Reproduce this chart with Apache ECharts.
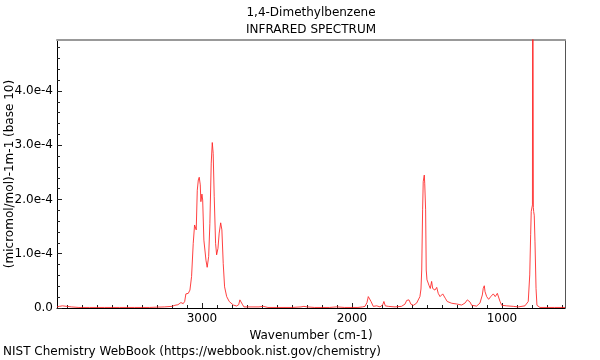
<!DOCTYPE html>
<html>
<head>
<meta charset="utf-8">
<script src="https://cdn.jsdelivr.net/npm/echarts@6/dist/echarts.min.js"></script>
<style>html,body{margin:0;padding:0;background:#fff}#c{width:600px;height:360px}</style>
</head>
<body>
<div id="c"></div>
<script>
// Wavenumbers (cm-1) and absorbance in units of 1e-4 (micromol/mol)-1 m-1
var wavenumbers = [3966,3950,3930,3900,3870,3820,3750,3650,3550,3450,3350,3250,3200,3180,3160,3150,3140,3125,3115,3107,3091,3080,3069,3058,3049,3042,3038,3031,3024,3018,3011,3007,3000,2995,2987,2973,2965,2955,2947,2938,2931,2925,2918,2909,2902,2893,2885,2875,2867,2858,2849,2835,2818,2791,2769,2755,2747,2740,2731,2720,2680,2620,2591,2560,2500,2400,2340,2320,2300,2250,2150,2102,2050,1960,1930,1913,1900,1891,1887,1882,1873,1858,1835,1813,1795,1787,1778,1758,1713,1670,1647,1635,1629,1620,1607,1590,1569,1547,1540,1535,1529,1525,1520,1518,1515,1513,1509,1505,1500,1492,1487,1480,1478,1469,1462,1455,1447,1435,1425,1413,1407,1395,1385,1378,1365,1335,1302,1269,1247,1231,1222,1213,1202,1169,1147,1131,1125,1118,1113,1102,1089,1075,1058,1045,1031,1022,1013,1002,969,925,891,847,825,815,809,805,800,797,795,793,791,789,785,780,773,767,747,700,650,580];
var absorbance = [0.02,0.03,0.04,0.03,0.02,0.01,0.01,0.01,0.01,0.01,0.01,0.02,0.03,0.05,0.06,0.09,0.10,0.08,0.12,0.26,0.27,0.33,0.58,1.19,1.53,1.56,1.44,2.17,2.36,2.41,2.27,1.96,2.10,1.99,1.25,0.88,0.75,0.95,1.56,2.67,3.05,2.85,2.05,1.19,0.98,1.10,1.38,1.57,1.44,0.82,0.39,0.21,0.12,0.055,0.037,0.06,0.15,0.16,0.07,0.02,0.02,0.02,0.03,0.01,0.01,0.01,0.02,0.03,0.02,0.01,0.01,0.02,0.01,0.01,0.02,0.03,0.10,0.21,0.22,0.20,0.12,0.03,0.04,0.02,0.06,0.12,0.04,0.03,0.02,0.03,0.07,0.14,0.16,0.15,0.07,0.05,0.09,0.21,0.35,0.70,1.81,2.33,2.35,2.45,2.30,2.27,1.81,0.70,0.52,0.46,0.42,0.39,0.36,0.49,0.36,0.33,0.33,0.38,0.27,0.21,0.21,0.26,0.25,0.18,0.12,0.087,0.074,0.055,0.09,0.15,0.16,0.11,0.05,0.035,0.09,0.24,0.36,0.41,0.30,0.21,0.16,0.21,0.26,0.21,0.27,0.24,0.12,0.05,0.04,0.03,0.02,0.04,0.12,0.61,1.35,1.78,1.78,1.90,9.0,9.0,1.85,1.78,1.71,1.22,0.36,0.05,0.01,0.01,0.01,0.01];

var xMajorTicks = [1000,2000,3000];
var xMinorTicks = [600,700,800,900,1100,1200,1300,1400,1500,1600,1700,1800,1900,2100,2200,2300,2400,2500,2600,2700,2800,2900,3100,3200,3300,3400,3500,3600,3700,3800,3900];
var yMajorTicks = [0,1,2,3,4];
var yMinorTicks = [0.2,0.4,0.6,0.8,1.2,1.4,1.6,1.8,2.2,2.4,2.6,2.8,3.2,3.4,3.6,3.8,4.2,4.4,4.6,4.8];

var X_MIN = 580, X_MAX = 3966, Y_MAX = 4.94;
var FONT = 'DejaVu Sans';

var data = wavenumbers.map(function (w, i) { return [w, absorbance[i]]; });

var chart = echarts.init(document.getElementById('c'), null, {renderer: 'canvas'});
chart.setOption({
  animation: false,
  backgroundColor: '#fff',
  textStyle: {fontFamily: FONT},
  grid: {left: 57, right: 35, top: 40, bottom: 52, containLabel: false, outerBoundsMode: 'none'},
  graphic: [
    {type: 'text', left: 3, top: 346, style: {text: 'NIST Chemistry WebBook (https://webbook.nist.gov/chemistry)', font: '12px "DejaVu Sans"', fill: '#000'}},
    {type: 'text', x: 311, y: 13, style: {text: '1,4-Dimethylbenzene', font: '12px "DejaVu Sans"', fill: '#000', align: 'center', verticalAlign: 'middle'}},
    {type: 'text', x: 311, y: 30, style: {text: 'INFRARED SPECTRUM', font: '12px "DejaVu Sans"', fill: '#000', align: 'center', verticalAlign: 'middle'}},
    {type: 'text', x: 10, y: 174, rotation: Math.PI / 2, style: {text: '(micromol/mol)-1m-1 (base 10)', font: '12px "DejaVu Sans"', fill: '#000', align: 'center', verticalAlign: 'middle'}}
  ],
  xAxis: [
    {
      type: 'value', inverse: true, min: X_MIN, max: X_MAX, position: 'bottom',
      axisLine: {show: true, onZero: false, lineStyle: {color: '#000', width: 1}},
      axisTick: {show: true, inside: true, length: 5, customValues: xMajorTicks, lineStyle: {color: '#222'}},
      axisLabel: {show: true, customValues: xMajorTicks, color: '#000', fontSize: 12, fontFamily: FONT, margin: 5,
        formatter: function (v) { return String(v); }},
      splitLine: {show: false},
      name: 'Wavenumber (cm-1)', nameLocation: 'middle', nameGap: 21,
      nameTextStyle: {color: '#000', fontSize: 12, fontFamily: FONT}
    },
    {
      type: 'value', inverse: true, min: X_MIN, max: X_MAX, position: 'bottom',
      axisLine: {show: false, onZero: false},
      axisTick: {show: true, inside: true, length: 3, customValues: xMinorTicks, lineStyle: {color: '#222'}},
      axisLabel: {show: false}, splitLine: {show: false}
    },
    {
      type: 'value', inverse: true, min: X_MIN, max: X_MAX, position: 'top',
      axisLine: {show: true, onZero: false, lineStyle: {color: '#999', width: 2}},
      axisTick: {show: false}, axisLabel: {show: false}, splitLine: {show: false}
    }
  ],
  yAxis: [
    {
      type: 'value', min: 0, max: Y_MAX, position: 'left',
      axisLine: {show: true, onZero: false, lineStyle: {color: '#000', width: 1}},
      axisTick: {show: true, inside: true, length: 5, customValues: yMajorTicks, lineStyle: {color: '#222'}},
      axisLabel: {show: true, customValues: yMajorTicks, color: '#000', fontSize: 12, fontFamily: FONT, margin: 4,
        formatter: function (v) { return v === 0 ? '0.0' : v.toFixed(1) + 'e-4'; }},
      splitLine: {show: false}
    },
    {
      type: 'value', min: 0, max: Y_MAX, position: 'left',
      axisLine: {show: false, onZero: false},
      axisTick: {show: true, inside: true, length: 3, customValues: yMinorTicks, lineStyle: {color: '#222'}},
      axisLabel: {show: false}, splitLine: {show: false}
    },
    {
      type: 'value', min: 0, max: Y_MAX, position: 'right',
      axisLine: {show: true, onZero: false, lineStyle: {color: '#555', width: 1}},
      axisTick: {show: false}, axisLabel: {show: false}, splitLine: {show: false}
    }
  ],
  series: [{
    type: 'line', xAxisIndex: 0, yAxisIndex: 0, data: data,
    showSymbol: false, symbol: 'none', clip: true,
    lineStyle: {color: '#ff2020', width: 1, opacity: 0.85},
    emphasis: {disabled: true}
  }]
});
</script>
</body>
</html>
